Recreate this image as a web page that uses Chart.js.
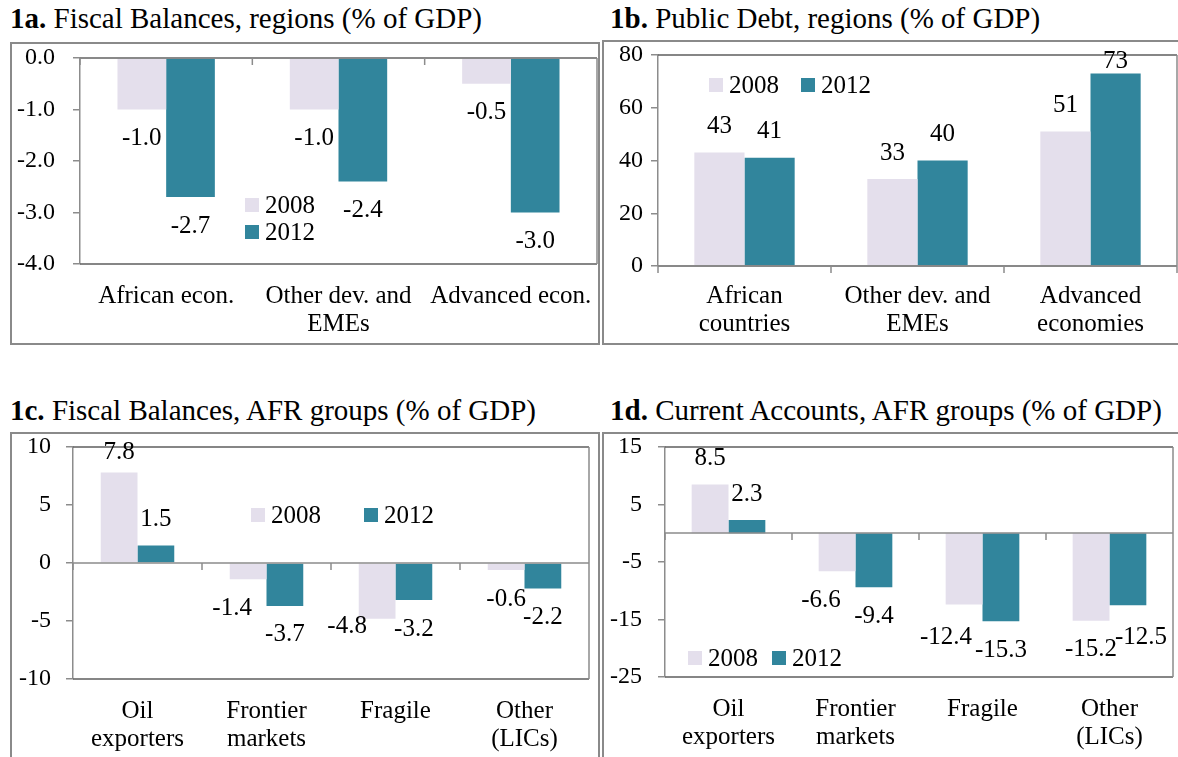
<!DOCTYPE html>
<html>
<head>
<meta charset="utf-8">
<title>Fiscal balances, public debt and current accounts</title>
<script src="https://cdn.jsdelivr.net/npm/chart.js@4.4.1/dist/chart.umd.min.js"></script>
<style>
    html, body { margin: 0; padding: 0; background: #fff; }
    body {
        width: 1178px; height: 757px; overflow: hidden; position: relative;
        font-family: 'Liberation Serif', 'Times New Roman', Times, serif; color: #000;
    }
    .title { position: absolute; font-size: 29px; line-height: 32px; white-space: nowrap; }
    .box { position: absolute; border: 2px solid #8a8a8a; box-sizing: border-box; overflow: hidden; }
    .box canvas { position: absolute; left: 0; top: 0; }
    .legend-item { position: absolute; font-size: 25px; line-height: 26px; white-space: nowrap; display: flex; align-items: center; }
    .legend-item i { display: inline-block; width: 14px; height: 14px; margin-right: 6px; }
</style>
</head>
<body>

<div class="title" style="left:10px; top:2px;"><b>1a.</b> Fiscal Balances, regions (% of GDP)</div>
<div class="title" style="left:610px; top:2px;"><b>1b.</b> Public Debt, regions (% of GDP)</div>
<div class="title" style="left:10px; top:394px;"><b>1c.</b> Fiscal Balances, AFR groups (% of GDP)</div>
<div class="title" style="left:610px; top:394px;"><b>1d.</b> Current Accounts, AFR groups (% of GDP)</div>

<div class="box" id="boxA"><canvas id="chartA"></canvas></div>
<div class="box" id="boxB"><canvas id="chartB"></canvas></div>
<div class="box" id="boxC"><canvas id="chartC"></canvas></div>
<div class="box" id="boxD"><canvas id="chartD"></canvas></div>

<script>
// Data
const seriesNames = ['2008', '2012'];

const regions1a = ['African econ.', ['Other dev. and', 'EMEs'], 'Advanced econ.'];
const fiscalRegions2008 = [-1.0, -1.0, -0.5];
const fiscalRegions2012 = [-2.7, -2.4, -3.0];

const regions1b = [['African', 'countries'], ['Other dev. and', 'EMEs'], ['Advanced', 'economies']];
const debtRegions2008 = [43, 33, 51];
const debtRegions2012 = [41, 40, 73];

const afrGroups = [['Oil', 'exporters'], ['Frontier', 'markets'], 'Fragile', ['Other', '(LICs)']];
const fiscalAfr2008 = [7.8, -1.4, -4.8, -0.6];
const fiscalAfr2012 = [1.5, -3.7, -3.2, -2.2];
const currentAfr2008 = [8.5, -6.6, -12.4, -15.2];
const currentAfr2012 = [2.3, -9.4, -15.3, -12.5];

const COLOR_2008 = '#e4dfec';
const COLOR_2012 = '#31859c';
const FONT = "'Liberation Serif', 'Times New Roman', Times, serif";

// Frame round the plot area, zero line with category tick marks
const plotFrame = {
    id: 'plotFrame',
    afterDatasetsDraw(chart) {
        const { ctx, chartArea: a, scales: { y } } = chart;
        ctx.save();
        ctx.lineWidth = 1.5;
        ctx.strokeStyle = '#5f5f5f';
        ctx.beginPath();
        ctx.moveTo(a.left, a.top); ctx.lineTo(a.right, a.top);
        ctx.moveTo(a.left, a.bottom); ctx.lineTo(a.right, a.bottom);
        ctx.stroke();
        ctx.strokeStyle = '#8c8c8c';
        ctx.beginPath();
        ctx.moveTo(a.right, a.top); ctx.lineTo(a.right, a.bottom);
        const zy = Math.round(y.getPixelForValue(0));
        ctx.moveTo(a.left, zy); ctx.lineTo(a.right, zy);
        const n = chart.data.labels.length;
        const step = (a.right - a.left) / n;
        for (let i = 0; i <= n; i++) {
            const tx = a.left + step * i;
            ctx.moveTo(tx, zy); ctx.lineTo(tx, zy + 7);
        }
        ctx.stroke();
        ctx.restore();
    }
};

// Value labels at the bar ends
const barLabels = {
    id: 'barLabels',
    afterDatasetsDraw(chart, args, opts) {
        const ctx = chart.ctx;
        ctx.save();
        ctx.font = `${opts.size}px ${FONT}`;
        ctx.fillStyle = '#000';
        ctx.textAlign = 'center';
        ctx.textBaseline = 'middle';
        chart.data.datasets.forEach((ds, di) => {
            chart.getDatasetMeta(di).data.forEach((bar, i) => {
                const v = ds.data[i];
                const nudge = opts.nudge[di + ':' + i] || [0, 0];
                const y = v >= 0 ? bar.y - opts.above : bar.y + opts.below;
                ctx.fillText(v.toFixed(opts.decimals), bar.x + nudge[0], y + nudge[1]);
            });
        });
        ctx.restore();
    }
};

function makeChart(p) {
    const box = document.getElementById(p.box);
    const [bx, by, bw, bh] = p.boxRect;
    box.style.left = bx + 'px';
    box.style.top = by + 'px';
    box.style.width = bw + 'px';
    box.style.height = bh + 'px';

    // canvas sits inside the 2px border
    const cx = bx + 2, cy = by + 2, cw = bw - 4, ch = bh - 4;
    const canvas = document.getElementById(p.canvas);
    canvas.width = cw;
    canvas.height = ch;
    const [pl, pt, pr, pb] = p.plotRect;

    const chart = new Chart(canvas.getContext('2d'), {
        type: 'bar',
        data: {
            labels: p.labels,
            datasets: [
                { label: seriesNames[0], data: p.data2008, backgroundColor: COLOR_2008 },
                { label: seriesNames[1], data: p.data2012, backgroundColor: COLOR_2012 }
            ]
        },
        options: {
            responsive: false,
            animation: false,
            layout: { padding: { left: 0, top: pt - cy, right: cx + cw - pr, bottom: 0 } },
            datasets: { bar: { barPercentage: 1, categoryPercentage: p.catPct } },
            scales: {
                x: {
                    grid: { display: false, drawTicks: false },
                    border: { display: false },
                    ticks: {
                        color: '#000', padding: p.xPad, maxRotation: 0, autoSkip: false,
                        font: { family: FONT, size: 25, lineHeight: 1.14 }
                    },
                    afterFit: s => { s.height = cy + ch - pb; s.paddingLeft = 0; s.paddingRight = 0; }
                },
                y: {
                    min: p.min, max: p.max,
                    grid: { drawOnChartArea: false, tickLength: 7, color: '#8c8c8c', lineWidth: 1.5 },
                    border: { color: '#8c8c8c', width: 1.5 },
                    ticks: {
                        stepSize: p.step, color: '#000', padding: p.yPad,
                        font: { family: FONT, size: 24 },
                        callback: v => Number(v).toFixed(p.tickDecimals)
                    },
                    afterFit: s => { s.width = pl - cx; s.paddingTop = 0; s.paddingBottom = 0; }
                }
            },
            plugins: {
                legend: { display: false },
                tooltip: { enabled: false },
                barLabels: { size: 25, above: 26, below: 29, decimals: p.labelDecimals, nudge: p.nudge || {} }
            }
        },
        plugins: [plotFrame, barLabels]
    });

    // legend built from the chart's own datasets
    chart.data.datasets.forEach((ds, i) => {
        const item = document.createElement('div');
        item.className = 'legend-item';
        item.style.left = p.legend[i][0] + 'px';
        item.style.top = (p.legend[i][1] - 13) + 'px';
        item.innerHTML = `<i style="background:${ds.backgroundColor}"></i>${ds.label}`;
        document.body.appendChild(item);
    });
    return chart;
}

makeChart({
    box: 'boxA', canvas: 'chartA', boxRect: [10, 42, 590, 303], plotRect: [80, 58, 597, 264],
    labels: regions1a, data2008: fiscalRegions2008, data2012: fiscalRegions2012,
    min: -4, max: 0, step: 1, tickDecimals: 1, labelDecimals: 1,
    catPct: 0.565, xPad: 18, yPad: 18,
    legend: [[245, 205], [245, 232]]
});

makeChart({
    box: 'boxB', canvas: 'chartB', boxRect: [602, 40, 580, 305], plotRect: [658, 55, 1177, 266],
    labels: regions1b, data2008: debtRegions2008, data2012: debtRegions2012,
    min: 0, max: 80, step: 20, tickDecimals: 0, labelDecimals: 0,
    catPct: 0.58, xPad: 16, yPad: 8,
    nudge: { '1:2': [0, 14] },
    legend: [[709, 85], [801, 85]]
});

makeChart({
    box: 'boxC', canvas: 'chartC', boxRect: [10, 432, 590, 330], plotRect: [73, 447, 589, 679],
    labels: afrGroups, data2008: fiscalAfr2008, data2012: fiscalAfr2012,
    min: -10, max: 10, step: 5, tickDecimals: 0, labelDecimals: 1,
    catPct: 0.57, xPad: 18, yPad: 15,
    nudge: { '0:0': [0, 6], '0:1': [-16, 0], '0:2': [-30, -21] },
    legend: [[251, 515], [364, 515]]
});

makeChart({
    box: 'boxD', canvas: 'chartD', boxRect: [602, 432, 580, 330], plotRect: [665, 447, 1173, 677],
    labels: afrGroups, data2008: currentAfr2008, data2012: currentAfr2012,
    min: -25, max: 15, step: 10, tickDecimals: 0, labelDecimals: 1,
    catPct: 0.58, xPad: 18, yPad: 16,
    nudge: { '0:1': [-16, 0], '0:2': [-18, 4], '1:3': [13, 3] },
    legend: [[688, 658], [772, 658]]
});
</script>
</body>
</html>
